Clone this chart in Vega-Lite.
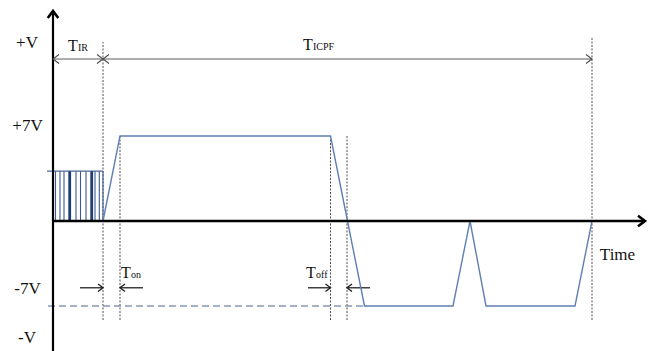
{
  "$schema": "https://vega.github.io/schema/vega-lite/v6.json",
  "width": 659,
  "height": 351,
  "padding": 0,
  "autosize": "none",
  "background": "white",
  "config": {"view": {"stroke": null}},
  "encoding": {
    "x": {"field": "t", "type": "quantitative", "scale": {"domain": [-53, 606], "nice": false, "zero": false}, "axis": null},
    "y": {"field": "v", "type": "quantitative", "scale": {"domain": [-10.706, 18.2], "nice": false, "zero": false}, "axis": null}
  },
  "layer": [
    {
      "description": "dotted timing markers",
      "data": {"values": [
        {"t": 50, "v": -8.15, "v2": 14.74},
        {"t": 67, "v": -8.15, "v2": 7},
        {"t": 277.5, "v": -8.15, "v2": 7},
        {"t": 294, "v": -8.15, "v2": 7},
        {"t": 539, "v": -8.15, "v2": 15.15}
      ]},
      "mark": {"type": "rule", "color": "#4a4a4a", "strokeWidth": 1, "strokeDash": [2, 1.5]},
      "encoding": {"y2": {"field": "v2"}}
    },
    {
      "description": "-7V reference level",
      "data": {"values": [{"t": -5, "t2": 311.5, "v": -7}]},
      "mark": {"type": "rule", "color": "#8798b3", "strokeWidth": 1.5, "strokeDash": [7, 4]},
      "encoding": {"x2": {"field": "t2"}}
    },
    {
      "description": "period dimension line",
      "data": {"values": [{"t": 0, "t2": 539, "v": 13.34}]},
      "mark": {"type": "rule", "color": "#5a5a5a", "strokeWidth": 1},
      "encoding": {"x2": {"field": "t2"}}
    },
    {
      "description": "switching time arrows",
      "data": {"values": [
        {"t": 27, "t2": 50, "v": -5.5},
        {"t": 90, "t2": 67, "v": -5.5},
        {"t": 255, "t2": 277.5, "v": -5.5},
        {"t": 317, "t2": 294, "v": -5.5}
      ]},
      "mark": {"type": "rule", "color": "#222222", "strokeWidth": 1.3},
      "encoding": {"x2": {"field": "t2"}}
    },
    {
      "description": "IR burst top",
      "data": {"values": [{"t": -6, "t2": 50, "v": 4.1}]},
      "mark": {"type": "rule", "color": "#4a6796", "strokeWidth": 1.3},
      "encoding": {"x2": {"field": "t2"}}
    },
    {
      "description": "IR burst pulses",
      "data": {"values": [
        {"t": 2.5, "v": 0, "v2": 4.1},
        {"t": 7, "v": 0, "v2": 4.1},
        {"t": 11, "v": 0, "v2": 4.1},
        {"t": 23, "v": 0, "v2": 4.1},
        {"t": 27.5, "v": 0, "v2": 4.1},
        {"t": 33, "v": 0, "v2": 4.1},
        {"t": 42, "v": 0, "v2": 4.1},
        {"t": 46.3, "v": 0, "v2": 4.1},
        {"t": 50, "v": 0, "v2": 4.1}
      ]},
      "mark": {"type": "rule", "color": "#3d5a8c", "strokeWidth": 1.1},
      "encoding": {"y2": {"field": "v2"}}
    },
    {
      "description": "IR burst strong pulses",
      "data": {"values": [
        {"t": 16.7, "v": 0, "v2": 4.1},
        {"t": 38.7, "v": 0, "v2": 4.1}
      ]},
      "mark": {"type": "rule", "color": "#1f3d75", "strokeWidth": 2.8},
      "encoding": {"y2": {"field": "v2"}}
    },
    {
      "description": "ICPF waveform",
      "data": {"values": [
        {"t": 50, "v": 0, "i": 0},
        {"t": 67, "v": 7, "i": 1},
        {"t": 277.5, "v": 7, "i": 2},
        {"t": 311.5, "v": -7, "i": 3},
        {"t": 400, "v": -7, "i": 4},
        {"t": 417, "v": 0, "i": 5},
        {"t": 433, "v": -7, "i": 6},
        {"t": 522, "v": -7, "i": 7},
        {"t": 539, "v": 0, "i": 8}
      ]},
      "mark": {"type": "line", "color": "#5f7fb3", "strokeWidth": 1.4},
      "encoding": {"order": {"field": "i", "type": "quantitative"}}
    },
    {
      "description": "voltage axis",
      "data": {"values": [{"t": 0, "v": -10.8, "v2": 17.1}]},
      "mark": {"type": "rule", "color": "#000000", "strokeWidth": 2.2},
      "encoding": {"y2": {"field": "v2"}}
    },
    {
      "description": "time axis",
      "data": {"values": [{"t": 0, "t2": 591, "v": 0}]},
      "mark": {"type": "rule", "color": "#000000", "strokeWidth": 2.6},
      "encoding": {"x2": {"field": "t2"}}
    },
    {
      "description": "axis arrowheads",
      "data": {"values": [
        {"t": 0, "v": 17.3, "dir": "up"},
        {"t": 592, "v": 0, "dir": "right"}
      ]},
      "mark": {"type": "point", "filled": false, "color": "#000000", "strokeWidth": 2.6, "opacity": 1, "size": 196},
      "encoding": {
        "shape": {"field": "dir", "type": "nominal", "legend": null,
          "scale": {"domain": ["right", "left", "up"], "range": ["M-1,-0.75L0,0L-1,0.75", "M1,-0.75L0,0L1,0.75", "M-0.75,1L0,0L0.75,1"]}}
      }
    },
    {
      "description": "dimension arrowheads",
      "data": {"values": [
        {"t": 0, "v": 13.34, "dir": "left"},
        {"t": 50, "v": 13.34, "dir": "right"},
        {"t": 50, "v": 13.34, "dir": "left"},
        {"t": 539, "v": 13.34, "dir": "right"}
      ]},
      "mark": {"type": "point", "filled": false, "color": "#4a4a4a", "strokeWidth": 1.1, "opacity": 1, "size": 144},
      "encoding": {
        "shape": {"field": "dir", "type": "nominal", "legend": null,
          "scale": {"domain": ["right", "left", "up"], "range": ["M-1,-0.7L0,0L-1,0.7", "M1,-0.7L0,0L1,0.7", "M-0.7,1L0,0L0.7,1"]}}
      }
    },
    {
      "description": "switching time arrowheads",
      "data": {"values": [
        {"t": 50, "v": -5.5, "dir": "right"},
        {"t": 67, "v": -5.5, "dir": "left"},
        {"t": 277.5, "v": -5.5, "dir": "right"},
        {"t": 294, "v": -5.5, "dir": "left"}
      ]},
      "mark": {"type": "point", "filled": false, "color": "#222222", "strokeWidth": 1.4, "opacity": 1, "size": 100},
      "encoding": {
        "shape": {"field": "dir", "type": "nominal", "legend": null,
          "scale": {"domain": ["right", "left", "up"], "range": ["M-1,-0.7L0,0L-1,0.7", "M1,-0.7L0,0L1,0.7", "M-0.7,1L0,0L0.7,1"]}}
      }
    },
    {
      "description": "level and axis labels",
      "data": {"values": [
        {"label": "+V", "t": -26, "v": 14.66},
        {"label": "+7V", "t": -25.5, "v": 7.86},
        {"label": "-7V", "t": -25.5, "v": -5.6},
        {"label": "-V", "t": -26, "v": -9.64},
        {"label": "Time", "t": 564.5, "v": -2.8}
      ]},
      "mark": {"type": "text", "font": "Liberation Serif", "fontSize": 17, "color": "#111111", "align": "center", "baseline": "middle"},
      "encoding": {"text": {"field": "label"}}
    },
    {
      "description": "interval symbols",
      "data": {"name": "intervals", "values": [
        {"main": "T", "sub": "IR", "t": 15, "v": 14.0},
        {"main": "T", "sub": "ICPF", "t": 250, "v": 14.08},
        {"main": "T", "sub": "on", "t": 68, "v": -4.69},
        {"main": "T", "sub": "off", "t": 253, "v": -4.69}
      ]},
      "layer": [
        {
          "mark": {"type": "text", "font": "Liberation Serif", "fontSize": 16, "color": "#111111", "align": "left", "baseline": "alphabetic"},
          "encoding": {"text": {"field": "main"}}
        },
        {
          "mark": {"type": "text", "font": "Liberation Serif", "fontSize": 10, "color": "#111111", "align": "left", "baseline": "alphabetic", "dx": 10},
          "encoding": {"text": {"field": "sub"}}
        }
      ]
    }
  ]
}
